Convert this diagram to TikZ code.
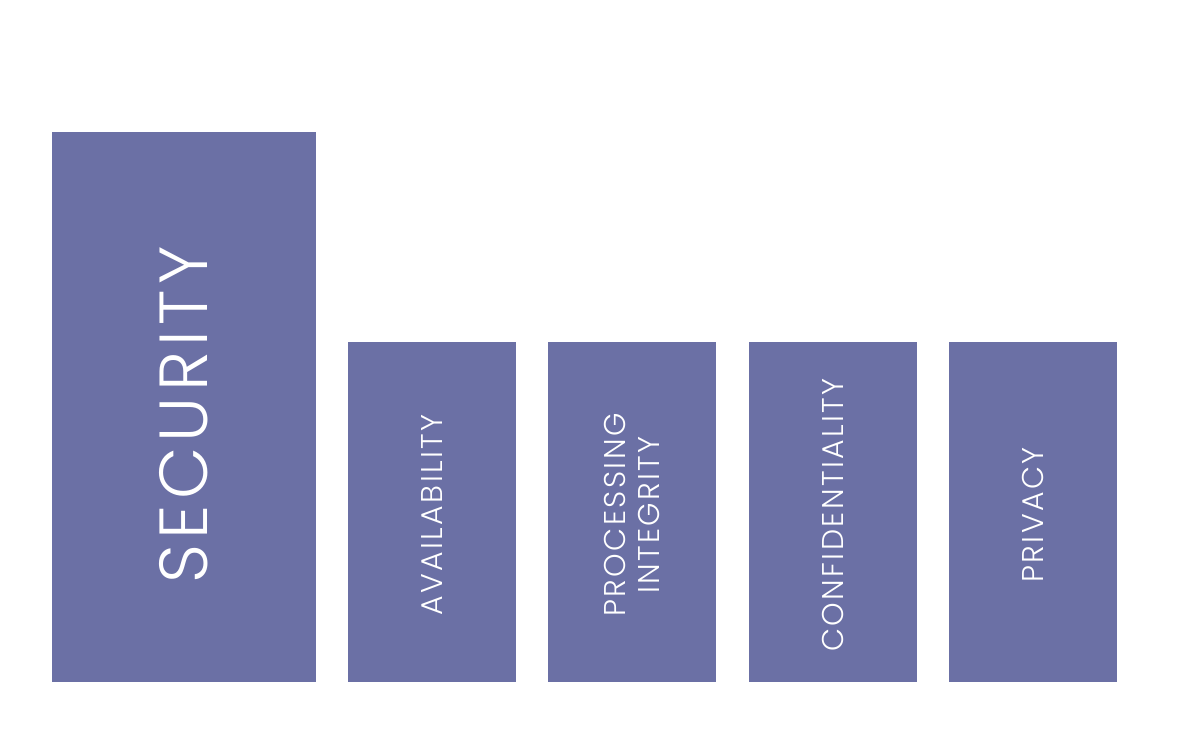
\documentclass[tikz,border=0pt]{standalone}
\usepackage{fontspec}
\newfontfamily\pillarfont[UprightFont=* Light,LetterSpace=8]{Poppins}
\definecolor{pillar}{RGB}{107,112,165}
\begin{document}
\begin{tikzpicture}[x=1pt,y=-1pt,
  bar/.style={fill=pillar,inner sep=0pt},
  small/.style={bar,minimum width=168pt,minimum height=340pt},
  word/.style={rotate=90,text=white,align=center,inner sep=0pt,font=\pillarfont\fontsize{30}{34}\selectfont}]
\useasboundingbox (0,0) rectangle (1200,743);

\node[bar,minimum width=264pt,minimum height=550pt] (security) at (184,407) {};
\node[word,font=\pillarfont\fontsize{68}{80}\selectfont] at ([yshift=-8pt]security.center) {SECURITY};

\node[small] (availability) at (432,512) {};
\node[small] (integrity) at (632,512) {};
\node[small] (confidentiality) at (833,512) {};
\node[small] (privacy) at (1033,512) {};

\node[word] at ([yshift=-3pt]availability.center) {AVAILABILITY};
\node[word] at ([yshift=-3pt]integrity.center) {PROCESSING\\INTEGRITY};
\node[word] at ([yshift=-3pt]confidentiality.center) {CONFIDENTIALITY};
\node[word] at ([yshift=-3pt]privacy.center) {PRIVACY};
\end{tikzpicture}
\end{document}
